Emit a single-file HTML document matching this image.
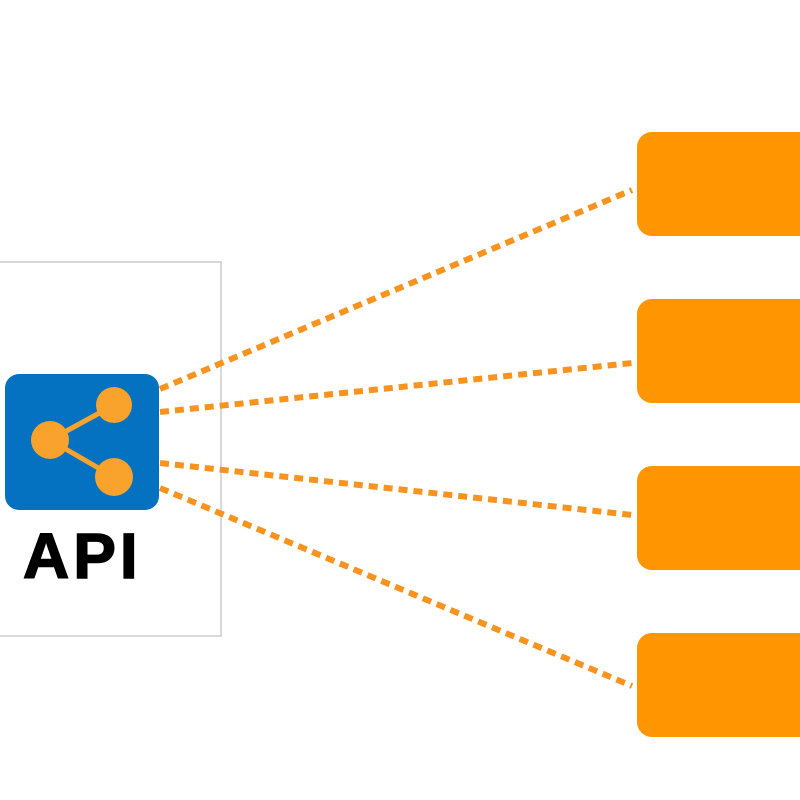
<!DOCTYPE html>
<html><head><style>
html,body{margin:0;padding:0;background:#fff;width:800px;height:800px;overflow:hidden}
.api{position:absolute;left:23px;top:524px;font:bold 64px "Liberation Sans",Arial,sans-serif;color:#000;letter-spacing:4px;line-height:1;-webkit-text-stroke:1.5px #000}
</style></head><body>
<svg width="800" height="800" style="position:absolute;left:0;top:0">
<rect x="-2" y="262" width="223" height="374" fill="#fff" stroke="#ccc" stroke-width="1.5"/>
<rect x="5" y="374" width="154" height="136" rx="14" fill="#0572c1"/>
<line x1="50" y1="440" x2="114" y2="405" stroke="#f9a22c" stroke-width="5"/>
<line x1="50" y1="440" x2="114" y2="477" stroke="#f9a22c" stroke-width="5"/>
<circle cx="114" cy="405" r="18" fill="#f9a22c"/>
<circle cx="50" cy="440" r="19" fill="#f9a22c"/>
<circle cx="114" cy="477" r="19" fill="#f9a22c"/>
<g stroke="#f7931e" stroke-width="6" stroke-dasharray="9,6" fill="none">
<line x1="160" y1="389" x2="632" y2="190"/>
<line x1="160" y1="412" x2="632" y2="363"/>
<line x1="160" y1="463" x2="632" y2="515"/>
<line x1="160" y1="488" x2="632" y2="686"/>
</g>
<g fill="#ff9500">
<rect x="637" y="132" width="200" height="104" rx="15"/>
<rect x="637" y="299" width="200" height="104" rx="15"/>
<rect x="637" y="466" width="200" height="104" rx="15"/>
<rect x="637" y="633" width="200" height="104" rx="15"/>
</g>
</svg>
<div class="api">API</div>
</body></html>
